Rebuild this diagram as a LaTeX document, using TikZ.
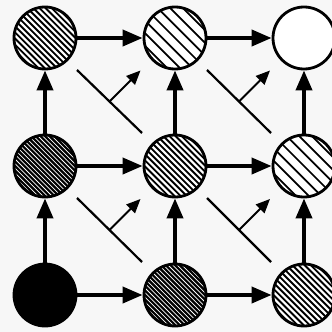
\documentclass[tikz,border=0pt]{standalone}
\usetikzlibrary{arrows.meta,calc}
\begin{document}
\begin{tikzpicture}[x=1pt,y=-1pt,
  cell/.style={circle,draw=black,line width=2.8pt,minimum size=62pt,inner sep=0pt,fill=white},
  hatch/.style n args={3}{path picture={
      \foreach \k in {-18,...,18}
        \draw[#2,line width=#3]
          ([shift={(\k*#1,0)}]path picture bounding box.center) ++(-45,-45) -- ++(90,90);}},
  solidcell/.style={cell,fill=black},
  densecell/.style={cell,fill=black,hatch={4.6}{white}{0.75pt}},
  medcell/.style={cell,hatch={6.1}{black}{1.9pt}},
  sparsecell/.style={cell,hatch={12.6}{black}{1.7pt}},
  emptycell/.style={cell},
  bigarrow/.style={line width=3.8pt,-{Triangle[length=20pt,width=16pt]}},
  diag/.style={line width=2.2pt},
  smallarrow/.style={line width=2pt,-{Triangle[length=14pt,width=12pt]}}
]
\fill[black!3] (0,0) rectangle (332,332);
\useasboundingbox (0,0) rectangle (332,332);

% circles
\node[medcell]    (c02) at (45,38)   {};
\node[sparsecell] (c12) at (175,38)  {};
\node[emptycell]  (c22) at (304,38)  {};
\node[densecell]  (c01) at (45,166)  {};
\node[medcell]    (c11) at (175,166) {};
\node[sparsecell] (c21) at (304,166) {};
\node[solidcell]  (c00) at (45,295)  {};
\node[densecell]  (c10) at (175,295) {};
\node[medcell]    (c20) at (304,295) {};

% horizontal arrows
\draw[bigarrow] (c02) -- (c12);
\draw[bigarrow] (c12) -- (c22);
\draw[bigarrow] (c01) -- (c11);
\draw[bigarrow] (c11) -- (c21);
\draw[bigarrow] (c00) -- (c10);
\draw[bigarrow] (c10) -- (c20);
% vertical arrows
\draw[bigarrow] (c00) -- (c01);
\draw[bigarrow] (c01) -- (c02);
\draw[bigarrow] (c10) -- (c11);
\draw[bigarrow] (c11) -- (c12);
\draw[bigarrow] (c20) -- (c21);
\draw[bigarrow] (c21) -- (c22);

% diagonals with perpendicular arrows
\foreach \a/\b/\n in {c02/c11/A, c12/c21/B, c01/c10/C, c11/c20/D}{
  \coordinate (s\n) at ($(\a)+(32,32)$);
  \coordinate (e\n) at ($(\b)+(-33,-33)$);
  \coordinate (m\n) at ($(s\n)!0.5!(e\n)$);
  \coordinate (t\n) at ($(m\n)+(31,-31)$);
  \draw[diag] (s\n) -- (e\n);
  \draw[smallarrow] (m\n) -- (t\n);
}
\end{tikzpicture}
\end{document}
